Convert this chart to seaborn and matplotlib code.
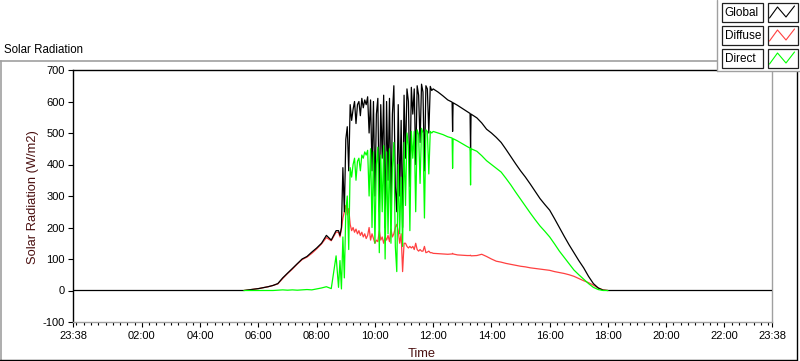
import numpy as np
import pandas as pd
import matplotlib.pyplot as plt
import seaborn as sns
from matplotlib.lines import Line2D
from matplotlib.patches import Rectangle

sns.set_style("white")
plt.rcParams["font.family"] = ["Liberation Sans", "DejaVu Sans"]
plt.rcParams["axes.unicode_minus"] = False

# clock times of the samples (chart runs 23:38 -> 23:38 next day)
times = [
    "23:38",
    "05:30", "05:40", "05:50", "06:00", "06:10", "06:20", "06:30", "06:40", "06:50", "07:00",
    "07:10", "07:20", "07:30", "07:40", "07:50", "08:00", "08:10", "08:20", "08:30", "08:40",
    "08:45", "08:48", "08:51", "08:54", "08:57", "09:00", "09:03", "09:06", "09:09", "09:12",
    "09:15", "09:18", "09:21", "09:24", "09:27", "09:30", "09:33", "09:36", "09:39", "09:42",
    "09:45", "09:48", "09:51", "09:54", "09:57", "10:00", "10:03", "10:06", "10:09", "10:12",
    "10:15", "10:18", "10:21", "10:24", "10:27", "10:30", "10:33", "10:36", "10:39", "10:42",
    "10:45", "10:48", "10:51", "10:54", "10:57", "11:00", "11:03", "11:06", "11:09", "11:12",
    "11:15", "11:18", "11:21", "11:24", "11:27", "11:30", "11:33", "11:36", "11:39", "11:42",
    "11:45", "11:48", "11:51", "11:54", "11:57", "12:00",
    "12:10", "12:20", "12:30", "12:39", "12:40", "12:41", "12:50", "13:00", "13:10", "13:16",
    "13:17", "13:18", "13:30", "13:40", "13:50", "14:00", "14:10", "14:20", "14:30", "14:40",
    "14:50", "15:00", "15:10", "15:20", "15:30", "15:40", "15:50", "16:00", "16:10", "16:20",
    "16:30", "16:40", "16:50", "17:00", "17:10", "17:20", "17:30", "17:40", "17:50", "18:00",
    "23:38",
]

global_rad = [
    0,
    0, 2, 4, 6, 9, 12, 16, 22, 40, 55,
    70, 85, 100, 108, 122, 135, 150, 175, 160, 190,
    190, 175, 200, 390, 250, 480, 520, 380, 590, 540,
    575, 600, 530, 590, 600, 555, 610, 580, 605, 590,
    615, 500, 605, 380, 600, 300, 560, 610, 250, 590,
    420, 620, 200, 600, 350, 610, 270, 560, 650, 330,
    250, 590, 300, 540, 200, 620, 420, 640, 600, 330,
    645, 560, 640, 400, 650, 620, 470, 655, 630, 380,
    650, 640, 500, 648, 635, 640,
    630, 618, 605, 598, 505, 596, 588, 578, 568, 562,
    445, 560, 548, 532, 512, 500, 486, 470, 448, 425,
    402, 380, 360, 338, 315, 292, 273, 255, 228, 200,
    172, 145, 120, 95, 72, 45, 22, 8, 1, 0,
    0,
]

diffuse = [
    np.nan,
    0, 2, 4, 6, 9, 12, 16, 21, 38, 54,
    68, 84, 98, 106, 118, 132, 148, 168, 158, 185,
    185, 170, 195, 230, 250, 270, 240, 260, 210, 190,
    200, 185, 195, 180, 190, 175, 185, 170, 180, 165,
    175, 200, 160, 180, 165, 150, 160, 155, 190, 160,
    170, 150, 170, 160, 175, 155, 195, 170, 180, 200,
    210, 190, 150, 180, 60, 150, 150, 140, 135, 140,
    135, 140, 130, 150, 130, 125, 130, 125, 125, 140,
    120, 122, 125, 120, 120, 118,
    117, 116, 115, 116, 118, 116, 113, 112, 111, 111,
    112, 110, 111, 115, 108, 100, 93, 90, 86, 83,
    80, 77, 75, 72, 70, 68, 66, 64, 60, 57,
    54, 50, 45, 38, 31, 25, 17, 8, 2, 0,
    np.nan,
]

direct = [
    np.nan,
    0, 0, 0, 0, 0, 0, 0, 1, 2, 1,
    2, 1, 2, 3, 2, 5, 8, 12, 6, 110,
    10, 95, 5, 170, 40, 250, 300, 130, 390, 360,
    400, 420, 350, 410, 420, 380, 430, 420, 440, 430,
    445, 300, 450, 200, 440, 150, 400, 455, 120, 430,
    250, 460, 100, 440, 180, 450, 150, 390, 470, 140,
    60, 400, 180, 360, 140, 470, 270, 500, 460, 190,
    505, 420, 505, 250, 510, 495, 340, 515, 500, 230,
    510, 505, 370, 505, 500, 505,
    500, 495, 488, 484, 388, 482, 475, 466, 457, 452,
    335, 450, 442, 428, 412, 400, 388, 376, 356, 335,
    312, 290, 268, 246, 225, 205, 188, 170, 148, 125,
    105, 85, 65, 50, 36, 22, 10, 3, 0, 0,
    np.nan,
]

tick_labels = ["23:38", "02:00", "04:00", "06:00", "08:00", "10:00", "12:00",
               "14:00", "16:00", "18:00", "20:00", "22:00", "23:38"]

series_names = ["Global", "Diffuse", "Direct"]
series_colors = ["#000000", "#ff4040", "#00ff00"]


def to_hours(labels):
    # hours elapsed since the first label, wrapping past midnight
    out, prev = [], None
    for t in labels:
        h, m = map(int, t.split(":"))
        mins = (h * 60 + m - (23 * 60 + 38)) % 1440
        if prev is not None and mins <= prev:
            mins += 1440
        out.append(mins / 60)
        prev = mins
    return out


df = pd.DataFrame({"hours": to_hours(times), "Global": global_rad,
                   "Diffuse": diffuse, "Direct": direct})

W, H = 800, 361
fig = plt.figure(figsize=(W / 100, H / 100), dpi=100)
fig.patch.set_facecolor("white")


def fx(x):
    return x / W


def fy(y):
    return 1 - y / H


ax = fig.add_axes([fx(73), fy(322), 699 / W, 252 / H])

order = {"Diffuse": 2, "Global": 3, "Direct": 4}
for name, color in zip(series_names, series_colors):
    sns.lineplot(data=df, x="hours", y=name, color=color, lw=0.9,
                 estimator=None, sort=False, ax=ax, zorder=order[name])

ax.set_xlim(0, 24)
ax.set_ylim(-100, 700)
ax.set_yticks(range(-100, 701, 100))
ax.set_xticks(to_hours(tick_labels))
ax.set_xticklabels(tick_labels)
ax.set_xticks(np.arange(7 / 60, 24, 0.25), minor=True)
ax.set_xlabel("")
ax.set_ylabel("")

ax.tick_params(axis="both", which="major", direction="out", length=3.5, width=0.8,
               color="black", labelsize=8, labelcolor="black", pad=2.5)
ax.tick_params(axis="x", which="minor", bottom=True, direction="out", length=2,
               width=0.8, color="black")
ax.tick_params(axis="x", which="major", bottom=True, pad=3)
ax.tick_params(axis="y", which="major", left=True)

for side in ["top", "left"]:
    ax.spines[side].set_color("black")
    ax.spines[side].set_linewidth(1.0)
for side in ["bottom", "right"]:
    ax.spines[side].set_color("#a0a0a0")
    ax.spines[side].set_linewidth(1.0)
ax.grid(False)

# labels
fig.text(fx(4), fy(50), "Solar Radiation", fontsize=8.3, color="black",
         ha="left", va="center")
fig.text(fx(33), fy(197), "Solar Radiation (W/m2)", fontsize=9.3, color="#4a1010",
         rotation=90, ha="center", va="center")
fig.text(fx(422), fy(354), "Time", fontsize=9.3, color="#4a1010",
         ha="center", va="center")

# panel frame
frame_gray = "#a0a0a0"
fig.add_artist(Line2D([fx(0), fx(718)], [fy(61), fy(61)], color=frame_gray, lw=1.2))
fig.add_artist(Line2D([fx(1), fx(1)], [fy(61), fy(360)], color=frame_gray, lw=1.2))
fig.add_artist(Line2D([fx(0), fx(797)], [fy(359.5), fy(359.5)], color="black", lw=1.0))
fig.add_artist(Line2D([fx(797), fx(797)], [fy(71), fy(359.5)], color="black", lw=1.0))

# legend panel
fig.add_artist(Rectangle((fx(717), fy(71)), fx(83), 71 / H, facecolor="white",
                         edgecolor="none", transform=fig.transFigure, zorder=5))
fig.add_artist(Line2D([fx(717), fx(717)], [fy(0), fy(71)], color=frame_gray, lw=1.0, zorder=6))
fig.add_artist(Line2D([fx(717), fx(800)], [fy(71), fy(71)], color=frame_gray, lw=1.0, zorder=6))

for i, (name, color) in enumerate(zip(series_names, series_colors)):
    top = 3 + 23 * i
    fig.add_artist(Rectangle((fx(722), fy(top + 19)), 41 / W, 19 / H, facecolor="white",
                             edgecolor="#202020", lw=0.9, transform=fig.transFigure, zorder=6))
    fig.add_artist(Rectangle((fx(768), fy(top + 19)), 30 / W, 19 / H, facecolor="white",
                             edgecolor="#202020", lw=0.9, transform=fig.transFigure, zorder=6))
    fig.text(fx(724.5), fy(top + 9.8), name, fontsize=8.5, color="black",
             ha="left", va="center", zorder=7)
    zig_x = [769.5, 777.5, 786, 794.5]
    zig_y = [top + 15, top + 4, top + 14, top + 3]
    fig.add_artist(Line2D([fx(v) for v in zig_x], [fy(v) for v in zig_y],
                          color=color, lw=0.8, zorder=7))

fig.savefig("out.png", dpi=100, facecolor="white")
